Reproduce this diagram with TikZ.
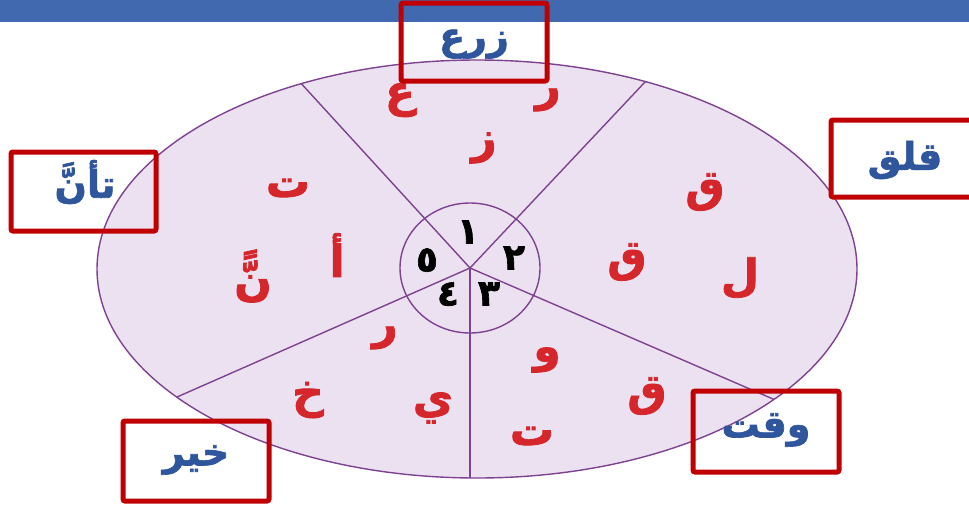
\documentclass[tikz,border=0pt]{standalone}
\usepackage{fontspec}
\TeXXeTstate=1
\newfontfamily\arabicfont[Script=Arabic,FakeBold=1.8]{DejaVu Sans Bold}
\definecolor{topblue}{HTML}{4169B0}
\definecolor{lav}{HTML}{EBE1F0}
\definecolor{purp}{HTML}{7E4290}
\definecolor{boxred}{HTML}{C00000}
\definecolor{wordblue}{HTML}{2F569C}
\definecolor{letred}{HTML}{D5262B}
\tikzset{
  wordbox/.style={draw=boxred, line width=5pt, rounded corners=2pt},
  word/.style={text=wordblue, font=\arabicfont\fontsize{38}{44}\selectfont, inner sep=0pt},
  letter/.style={text=letred, font=\arabicfont\fontsize{44}{50}\selectfont, inner sep=0pt},
  num/.style={text=black, font=\arabicfont\fontsize{36}{40}\selectfont, inner sep=0pt},
  spoke/.style={draw=purp, line width=1.4pt}
}
\begin{document}
\begin{tikzpicture}[x=1pt,y=-1pt]
\useasboundingbox (0,0) rectangle (969,504);
\fill[white] (0,0) rectangle (969,504);
\fill[topblue] (0,0) rectangle (969,22);
\draw[draw=purp, fill=lav, line width=1.4pt] (477,269) ellipse [x radius=380, y radius=209];
\coordinate (C) at (470,268);
\coordinate (e1) at (126,-108);
\coordinate (e2) at (820,-104);
\coordinate (e3) at (1076,530);
\coordinate (e4) at (470,688);
\coordinate (e5) at (-116,526);
\begin{scope}
\clip (477,269) ellipse [x radius=380, y radius=209];
\foreach \e in {e1,e2,e3,e4,e5} \draw[spoke] (C) -- (\e);
\end{scope}
\draw[spoke] (C) ellipse [x radius=70, y radius=65];
% numbers
\node[num] (n1) at (468,232) {\beginR ١\endR};
\node[num] (n2) at (514,258) {\beginR ٢\endR};
\node[num] (n3) at (489,294) {\beginR ٣\endR};
\node[num] (n4) at (448,294) {\beginR ٤\endR};
\node[num] (n5) at (427,260) {\beginR ٥\endR};
% sector 1
\node[letter] (a1) at (548,100) {\beginR ر\endR};
\node[letter] (a2) at (400,100) {\beginR ع\endR};
\node[letter] (a3) at (484,148) {\beginR ز\endR};
% sector 2
\node[letter] (b1) at (705,192) {\beginR ق\endR};
\node[letter] (b2) at (627,262) {\beginR ق\endR};
\node[letter] (b3) at (740,278) {\beginR ل\endR};
% sector 3
\node[letter] (c1) at (547,360) {\beginR و\endR};
\node[letter] (c2) at (647,396) {\beginR ق\endR};
\node[letter] (c3) at (532,436) {\beginR ت\endR};
% sector 4
\node[letter] (d1) at (385,338) {\beginR ر\endR};
\node[letter] (d2) at (308,400) {\beginR خ\endR};
\node[letter] (d3) at (433,408) {\beginR ي\endR};
% sector 5
\node[letter] (f1) at (288,188) {\beginR ت\endR};
\node[letter] (f2) at (337,255) {\beginR أ\endR};
\node[letter] (f3) at (253,276) {\beginR نًّ\endR};
% boxes
\draw[wordbox] (401,3) rectangle (547,81);
\node[word] (w1) at (474,44) {\beginR زرع\endR};
\draw[wordbox] (831,120) rectangle (975,197);
\node[word] (w2) at (905,160) {\beginR قلق\endR};
\draw[wordbox] (11,152) rectangle (156,231);
\node[word] (w3) at (85,182) {\beginR تأنَّ\endR};
\draw[wordbox] (123,421) rectangle (269,501);
\node[word] (w4) at (196,460) {\beginR خير\endR};
\draw[wordbox] (693,391) rectangle (839,472);
\node[word] (w5) at (766,430) {\beginR وقت\endR};
\end{tikzpicture}
\end{document}
